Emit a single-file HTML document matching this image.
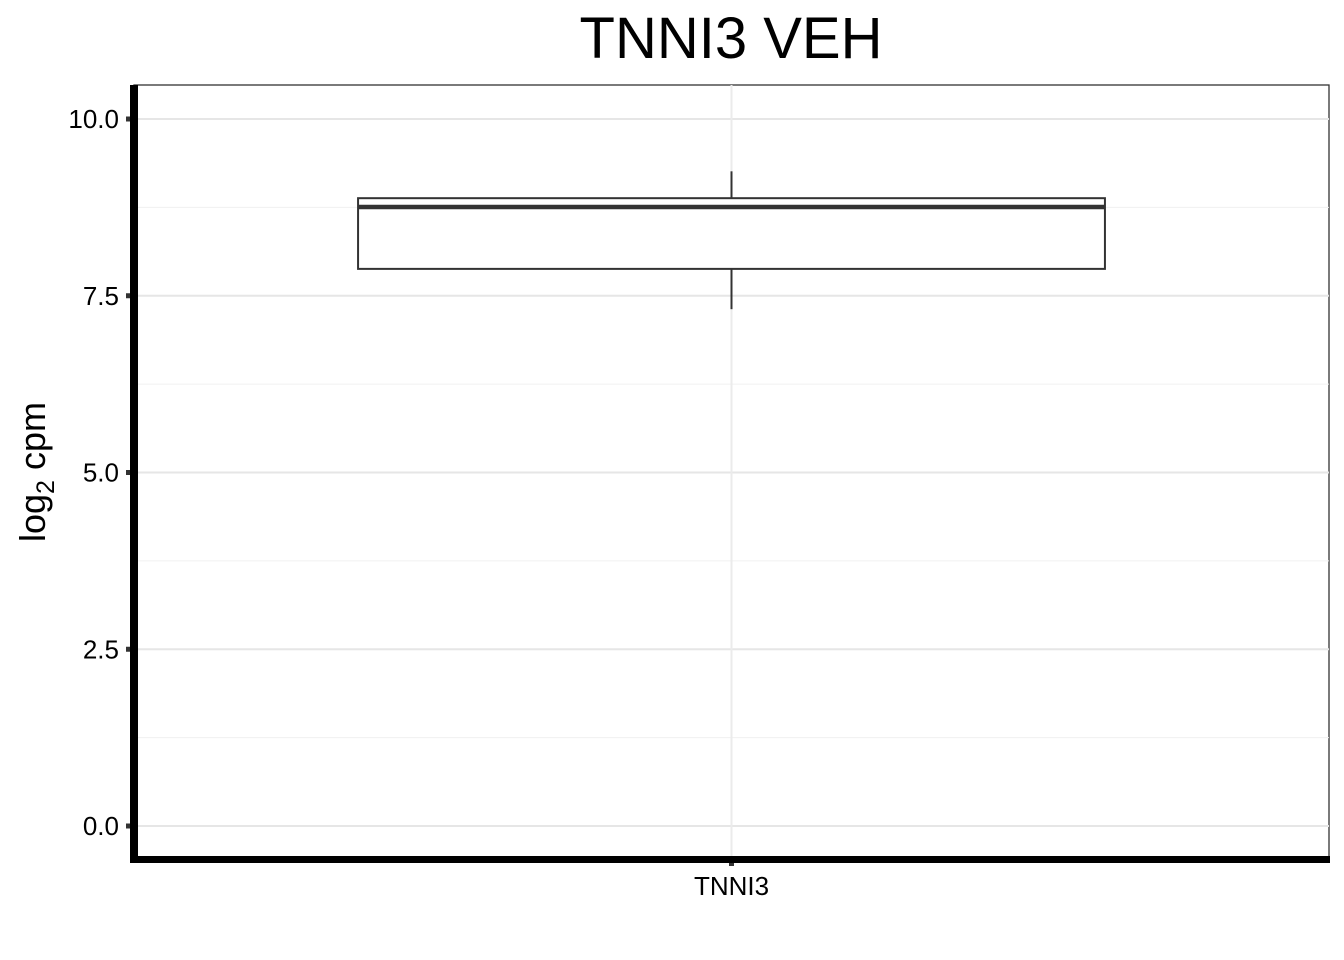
<!DOCTYPE html>
<html><head><meta charset="utf-8"><style>body{margin:0;background:#fff}svg{display:block;font-family:"Liberation Sans",Arial,sans-serif}</style></head>
<body>
<svg id="chart" width="1344" height="960">
<text x="731" y="58" font-size="58" text-anchor="middle" fill="#000">TNNI3 VEH</text>
<text transform="translate(45,472) rotate(-90)" font-size="36" text-anchor="middle" fill="#000">log<tspan font-size="25" dy="9">2</tspan><tspan dy="-9"> cpm</tspan></text>
<g id="plot"></g>
</svg>
<script>
const categories = ["TNNI3"];
const lowerWhisker = [7.31];
const q1 = [7.88];
const median = [8.755];
const q3 = [8.88];
const upperWhisker = [9.26];
const yTicks = [0, 2.5, 5, 7.5, 10];
const yTickLabels = ["0.0", "2.5", "5.0", "7.5", "10.0"];
const yMinor = [1.25, 3.75, 6.25, 8.75];

const NS = "http://www.w3.org/2000/svg";
const g = document.getElementById("plot");
const L = 134, R = 1329, T = 85, B = 859;
const y = v => 826 - v * 70.7;
const bandW = (R - L) / categories.length;
const x = i => L + bandW * (i + 0.5);
function mk(tag, attrs, parent) {
  const e = document.createElementNS(NS, tag);
  for (const k in attrs) e.setAttribute(k, attrs[k]);
  (parent || g).appendChild(e);
  return e;
}
let e = mk("rect", {x: L, y: T, width: R - L, height: B - T, fill: "#fff", stroke: "#333", "stroke-width": 1.3});


yMinor.forEach(v => {
  const l = mk("line", {x1: L, x2: R, y1: y(v), y2: y(v), stroke: "#f0f0f0", "stroke-width": 1});
  
  
});
yTicks.forEach((v, i) => {
  const l = mk("line", {x1: L, x2: R, y1: y(v), y2: y(v), stroke: "#e6e6e6", "stroke-width": 2});
  
  
  const t = mk("rect", {x: 126, y: y(v) - 2.5, width: 7, height: 5, fill: "#333"});
  
  
  const tx = mk("text", {x: 119, y: y(v) + 9, "font-size": 26, "text-anchor": "end", fill: "#000"});
  tx.textContent = yTickLabels[i];
  
  
});
categories.forEach((c, i) => {
  const cx = x(i);
  const vg = mk("line", {x1: cx, x2: cx, y1: T, y2: B, stroke: "#ebebeb", "stroke-width": 2});
  
  
  const hw = bandW * 0.625 / 2;
  const w1 = mk("line", {x1: cx, x2: cx, y1: y(upperWhisker[i]), y2: y(q3[i]), stroke: "#333", "stroke-width": 2});
  
  
  const w2 = mk("line", {x1: cx, x2: cx, y1: y(q1[i]), y2: y(lowerWhisker[i]), stroke: "#333", "stroke-width": 2});
  
  
  const bx = mk("rect", {x: cx - hw, y: y(q3[i]), width: 2 * hw, height: y(q1[i]) - y(q3[i]), fill: "#fff", stroke: "#333", "stroke-width": 2});
  
  
  const md = mk("line", {x1: cx - hw, x2: cx + hw, y1: y(median[i]), y2: y(median[i]), stroke: "#333", "stroke-width": 4.5});
  
  
  const xt = mk("rect", {x: cx - 2.5, y: 860, width: 5, height: 6, fill: "#333"});
  
  
  const xl = mk("text", {x: cx, y: 895, "font-size": 26, "text-anchor": "middle", fill: "#000"});
  xl.textContent = c;
  
  
});
const ya = mk("rect", {x: 130, y: T, width: 8, height: B + 4 - T, fill: "#000"});


const xa = mk("rect", {x: 134, y: 856, width: R - 134 + 1, height: 7, fill: "#000"});


</script>
</body></html>
